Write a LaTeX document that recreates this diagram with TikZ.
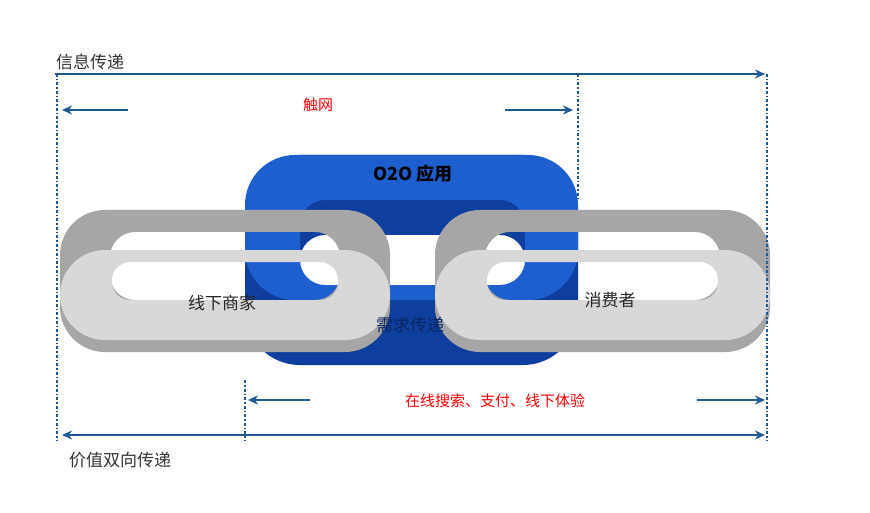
\documentclass[tikz,border=0pt]{standalone}
\usepackage{fontspec}
\setmainfont{Noto Sans CJK SC}
\usetikzlibrary{arrows.meta}
\definecolor{lineblue}{HTML}{1F5A96}
\definecolor{linkblue}{HTML}{1E5FD0}
\definecolor{linkdark}{HTML}{0F3F9E}
\definecolor{greyface}{HTML}{D8D8D8}
\definecolor{greyside}{HTML}{A6A6A6}
\tikzset{
  flow/.style={draw=lineblue, line width=2pt, -{Stealth[length=10pt,width=9pt]}},
  guide/.style={draw=lineblue, line width=1.5pt, dash dot},
  redtxt/.style={text=red, font=\fontsize{15}{17}\selectfont},
  darktxt/.style={text=black!85, font=\fontsize{17}{19}\selectfont}
}
\begin{document}
\begin{tikzpicture}[x=1pt,y=-1pt]
  \path [use as bounding box, fill=white] (0,0) rectangle (870,513);

  % blue link (back)
  \path[fill=linkdark, even odd rule, rounded corners=55pt]
    (245,155) rectangle (578,365) [rounded corners=25pt] (300,235) rectangle (525,290);
  \path[fill=linkblue, even odd rule, rounded corners=50pt]
    (245,155) rectangle (578,300) [rounded corners=25pt] (300,200) rectangle (525,285);

  % grey links
  \foreach \xa/\xb in {60/390, 435/770} {
    \path[fill=greyside, even odd rule, rounded corners=45pt]
      (\xa,210) rectangle (\xb,352) [rounded corners=25pt] (\xa+50,232) rectangle (\xb-50,300);
    \path[fill=greyface, even odd rule, rounded corners=45pt]
      (\xa,250) rectangle (\xb,340) [rounded corners=18pt] (\xa+52,262) rectangle (\xb-52,300);
  }

  % texts
  \node[font=\fontsize{18}{20}\selectfont\bfseries, text=black] (o2o) at (413,174) {O2O 应用};
  \node[darktxt] (shop) at (222,303) {线下商家};
  \node[darktxt] (user) at (610,300) {消费者};
  \node[darktxt, text=linkdark!60!black] (need) at (410,325) {需求传递};
  \node[darktxt, text=black!80] (info) at (90,62) {信息传递};
  \node[darktxt, text=black!80] (value) at (120,460) {价值双向传递};
  \node[redtxt] (net) at (318,105) {触网};
  \node[redtxt] (pay) at (495,401) {在线搜索、支付、线下体验};

  % guides
  \coordinate (tl) at (57,74);   \coordinate (tr) at (767,74);
  \coordinate (bl) at (57,440);  \coordinate (br) at (767,440);
  \coordinate (tm) at (578,74);  \coordinate (tmb) at (578,200);
  \coordinate (bm) at (245,380); \coordinate (bmb) at (245,440);
  \draw[guide] (tl) -- (bl);
  \draw[guide] (tr) -- (br);
  \draw[guide] (tm) -- (tmb);
  \draw[guide] (bm) -- (bmb);

  % arrows
  \coordinate (a1) at (55,74);   \coordinate (a2) at (765,74);
  \draw[flow] (a1) -- (a2);
  \coordinate (n1) at (128,110); \coordinate (n2) at (62,110);
  \coordinate (n3) at (505,110); \coordinate (n4) at (573,110);
  \draw[flow] (n1) -- (n2);
  \draw[flow] (n3) -- (n4);
  \coordinate (p1) at (310,400); \coordinate (p2) at (248,400);
  \coordinate (p3) at (697,400); \coordinate (p4) at (765,400);
  \draw[flow] (p1) -- (p2);
  \draw[flow] (p3) -- (p4);
  \coordinate (v1) at (62,435);  \coordinate (v2) at (765,435);
  \draw[flow, {Stealth[length=10pt,width=9pt]}-{Stealth[length=10pt,width=9pt]}] (v1) -- (v2);
\end{tikzpicture}
\end{document}
